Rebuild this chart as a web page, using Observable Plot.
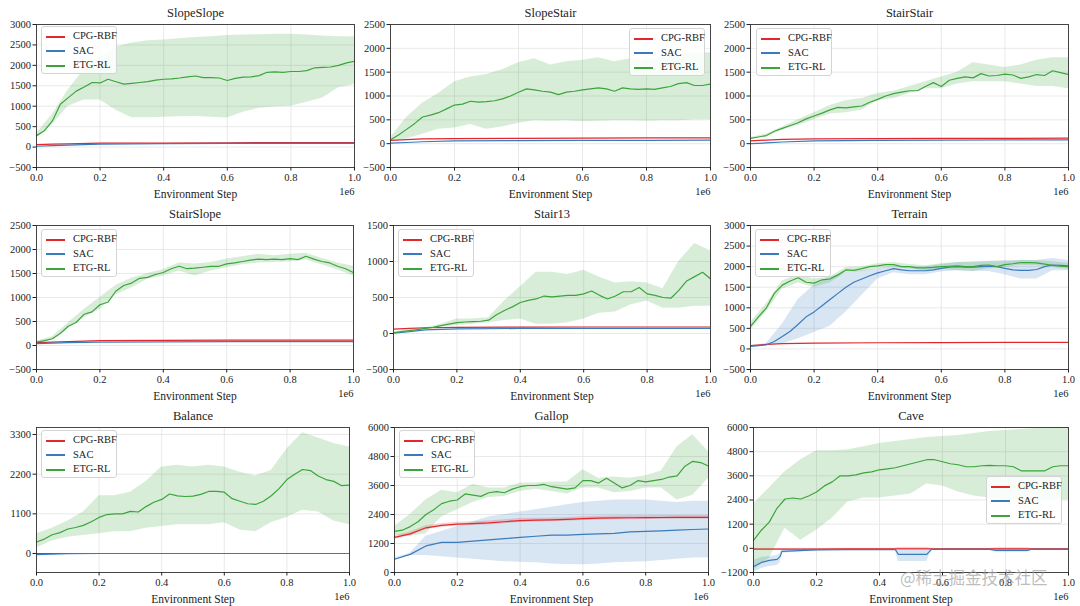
<!DOCTYPE html>
<html><head><meta charset="utf-8">
<script src="https://cdn.jsdelivr.net/npm/d3@7"></script>
<script src="https://cdn.jsdelivr.net/npm/@observablehq/plot@0.6"></script>
<style>
body{margin:0;background:#fff;}
#root{position:relative;width:1080px;height:606px;overflow:hidden;font-family:"Liberation Serif","Times New Roman",serif;background:#fff;}
.panel{position:absolute;}
.legend{position:absolute;width:74px;height:44px;background:rgba(255,255,255,0.85);border:1px solid #d4d4d4;border-radius:3px;font-size:10.5px;color:#222;padding-top:2px;box-sizing:content-box;}
.legend .row{height:14.5px;line-height:14.5px;position:relative;padding-left:31px;white-space:nowrap;}
.legend .sw{position:absolute;left:4px;top:6.5px;width:19px;height:2px;}
.wm{position:absolute;left:900px;top:568px;font-family:"Noto Sans CJK SC",sans-serif;font-size:16.5px;line-height:18px;color:rgba(160,160,160,0.7);white-space:nowrap;}
</style></head>
<body><div id="root"></div>
<script>
// ---------- data ----------
const STEPS = [0,0.025,0.05,0.075,0.1,0.125,0.15,0.175,0.2,0.225,0.25,0.275,0.3,0.325,0.35,0.375,0.4,0.425,0.45,0.475,0.5,0.525,0.55,0.575,0.6,0.625,0.65,0.675,0.7,0.725,0.75,0.775,0.8,0.825,0.85,0.875,0.9,0.925,0.95,0.975,1];
const BAND_STEPS = [0,0.05,0.1,0.15,0.2,0.25,0.3,0.35,0.4,0.45,0.5,0.55,0.6,0.65,0.7,0.75,0.8,0.85,0.9,0.95,1];
const FLAT_STEPS = [0,0.05,0.1,0.2,0.4,0.6,0.8,1];
const X_TICKS = [0,0.2,0.4,0.6,0.8,1];
const METHODS = ["CPG-RBF","SAC","ETG-RL"];

// SlopeSlope
const ssEtg = [280,400,640,1050,1210,1370,1470,1580,1570,1660,1600,1540,1560,1580,1600,1640,1660,1670,1690,1720,1740,1700,1700,1690,1630,1680,1710,1720,1750,1830,1840,1830,1850,1850,1870,1940,1950,1960,2000,2060,2100];
const ssEtgHi = [330,800,1400,1900,2200,2450,2550,2600,2620,2650,2680,2700,2730,2740,2750,2760,2760,2740,2720,2700,2700];
const ssEtgLo = [220,550,1000,1150,1150,900,720,720,730,740,750,730,710,850,950,980,1000,1100,1200,1450,1530];
const ssCpg = [60,70,80,95,100,105,110,110];
const ssSac = [20,35,50,70,85,90,90,90];
// SlopeStair
const sStEtg = [80,180,300,420,560,600,650,730,810,830,890,870,880,900,940,1000,1080,1150,1130,1100,1080,1030,1080,1100,1130,1150,1170,1150,1100,1170,1150,1140,1150,1140,1170,1200,1260,1280,1220,1220,1250];
const sStEtgHi = [130,550,850,1050,1300,1400,1450,1550,1700,1780,1650,1720,1750,1800,1720,1780,1750,1800,1850,1900,1900];
const sStEtgLo = [50,100,200,300,330,400,300,350,430,480,470,480,460,470,480,480,470,480,480,500,500];
const sStCpg = [70,85,100,105,110,115,120,120];
const sStSac = [10,25,40,60,65,70,70,75];
// StairStair
const stStEtg = [110,140,170,260,320,380,440,520,580,640,710,760,750,770,790,870,930,1000,1050,1080,1110,1110,1200,1280,1200,1330,1370,1400,1380,1470,1420,1430,1460,1440,1370,1400,1450,1430,1530,1490,1450];
const stStEtgHi = [130,200,350,500,650,800,900,950,1050,1100,1200,1300,1400,1500,1700,1650,1600,1650,1750,1800,1800];
const stStEtgLo = [90,150,280,380,500,620,650,700,900,950,1050,1150,1150,1250,1300,1300,1300,1250,1200,1200,1150];
const stStCpg = [60,75,90,100,105,110,110,115];
const stStSac = [0,15,35,60,70,75,80,80];
// StairSlope
const stSlEtg = [70,100,140,250,400,480,650,700,850,900,1130,1250,1300,1400,1420,1480,1520,1600,1650,1600,1610,1630,1650,1650,1700,1720,1750,1780,1800,1790,1800,1790,1810,1790,1860,1800,1750,1720,1650,1600,1520];
const stSlEtgHi = [90,180,470,750,1000,1250,1400,1500,1580,1720,1700,1730,1800,1850,1900,1870,1900,1920,1820,1720,1650];
const stSlEtgLo = [50,110,350,580,750,1050,1200,1380,1450,1550,1450,1550,1620,1680,1720,1730,1740,1780,1680,1580,1450];
const stSlCpg = [60,70,80,100,105,110,110,110];
const stSlSac = [40,50,60,70,75,80,80,80];
// Stair13
const s13Etg = [10,25,40,55,70,85,110,130,150,160,165,170,185,260,320,370,430,460,480,520,510,520,530,530,550,590,530,480,520,580,580,640,550,530,500,490,600,730,790,850,760];
const s13EtgHi = [20,60,80,130,200,200,220,450,650,850,850,820,880,780,700,720,700,620,1000,1250,1150];
const s13EtgLo = [0,30,60,90,110,130,150,180,200,130,130,150,200,280,300,400,450,350,350,380,380];
const s13Cpg = [60,70,80,85,88,90,90,90];
const s13Sac = [5,25,50,65,70,70,70,70];
// Terrain
const tEtg = [550,780,1000,1350,1550,1650,1730,1620,1600,1680,1700,1800,1920,1910,1950,2000,2020,2050,2050,2000,2000,1970,1970,1980,2000,2010,2020,2000,2000,2030,2040,2000,2050,2070,2100,2100,2090,2060,2030,2010,2000];
const tEtgHi = [650,1100,1650,1800,1700,1750,1980,2000,2070,2100,2050,2020,2070,2100,2100,2120,2120,2150,2150,2120,2080];
const tEtgLo = [450,900,1450,1600,1500,1600,1850,1880,1950,1980,1950,1900,1930,1900,1880,1950,1980,2030,2020,1980,1930];
const tSac = [60,80,100,180,300,430,600,780,900,1050,1200,1350,1500,1620,1700,1780,1850,1900,1950,1920,1900,1900,1900,1920,1960,1990,2000,1990,1990,2000,2010,2000,1960,1920,1910,1910,1930,2000,2040,2030,2020];
const tSacHi = [80,130,600,1200,1550,1750,1850,1900,1950,2000,1980,2000,2050,2100,2120,2130,2150,2150,2150,2200,2150];
const tSacLo = [40,70,120,250,400,550,900,1300,1700,1850,1800,1800,1870,1900,1880,1880,1800,1700,1700,1900,1900];
const tCpg = [80,110,130,140,150,155,160,160];
// Balance
const bEtg = [320,400,520,580,680,720,780,880,1000,1080,1100,1100,1170,1150,1300,1420,1500,1650,1600,1580,1590,1640,1720,1720,1700,1520,1450,1380,1360,1450,1600,1800,2050,2200,2330,2300,2150,2050,2000,1880,1900];
const bEtgHi = [550,700,900,1150,1600,1600,1700,2000,2400,2450,2400,2450,2400,2250,2150,2300,2900,3350,3200,3050,2950];
const bEtgLo = [150,350,450,500,550,600,600,700,750,800,800,800,850,650,600,850,1000,1200,1150,900,800];
const bCpg = [0,0,0,0,0,0,0,0];
const bSac = [-30,-20,-5,0,0,0,0,0];
// Gallop
const gEtg = [1700,1750,1900,2100,2400,2600,2850,2950,3000,3250,3200,3150,3300,3350,3300,3450,3550,3600,3600,3650,3550,3500,3450,3500,3800,3800,3700,3900,3700,3500,3600,3800,3750,3800,3850,3950,4000,4400,4600,4550,4400];
const gEtgHi = [1900,2400,3000,3400,3300,3650,3500,3500,3700,3700,3750,3750,4250,3900,3950,3900,4000,4200,5200,5700,5000];
const gEtgLo = [1550,1500,1600,2300,2600,2900,3100,3150,3350,3450,3350,3250,3500,3500,3300,3350,3500,3500,3000,3200,3900];
const gCpg = [1450,1600,1850,1950,2000,2020,2050,2100,2150,2170,2180,2200,2230,2250,2260,2265,2270,2275,2280,2280,2280];
const gCpgHi = [1530,1680,1930,2030,2080,2100,2130,2180,2230,2250,2260,2280,2310,2330,2340,2345,2350,2355,2360,2360,2360];
const gCpgLo = [1370,1520,1770,1870,1920,1940,1970,2020,2070,2090,2100,2120,2150,2170,2180,2185,2190,2195,2200,2200,2200];
const gSac = [550,750,1100,1250,1250,1300,1350,1400,1450,1500,1550,1550,1580,1600,1620,1680,1700,1720,1750,1780,1800];
const gSacHi = [600,800,1500,1700,1900,2100,2300,2400,2500,2600,2700,2800,2900,2950,3000,3000,3000,2950,2900,2950,2950];
const gSacLo = [500,700,700,650,600,550,500,450,420,400,350,330,320,350,400,420,450,500,550,600,600];
// Cave
const cEtg = [400,900,1300,2000,2450,2500,2450,2600,2800,3100,3300,3600,3600,3650,3750,3800,3900,3950,4000,4100,4200,4300,4400,4400,4300,4200,4150,4050,4050,4100,4120,4100,4100,4050,3850,3850,3850,3850,4050,4100,4100];
const cEtgHi = [2200,3000,3800,4400,4850,4850,4900,5050,5200,5300,5400,5500,5550,5600,5700,5800,5850,5900,5950,6000,6000];
const cEtgLo = [-1100,-500,1000,400,900,1500,2300,2500,2500,2600,2700,3200,3100,2800,2600,2500,2400,2400,2400,2400,2400];
const cSteps = [0,0.025,0.05,0.075,0.085,0.09,0.2,0.3,0.45,0.46,0.55,0.565,0.75,0.77,0.87,0.88,1];
const cSac = [-900,-700,-600,-550,-400,-150,-80,-60,-60,-300,-300,-50,-50,-100,-100,-50,-50];
const cSacHi = [-600,-450,-400,-350,-250,-80,-40,-40,-40,-100,-100,-30,-30,-40,-40,-30,-30];
const cSacLo = [-1200,-1000,-900,-850,-700,-250,-120,-100,-100,-650,-650,-100,-100,-200,-200,-100,-100];
const cCpg = [-40,-40,-40,-40,-40,-40,-35,-30,-30,-30,-30,-30,-30,-30,-30,-30,-30];
const cCpgHi = [-20,-20,-20,-20,-20,-20,-15,-10,-10,60,60,-10,-10,30,30,-10,-10];
const cCpgLo = [-60,-60,-60,-60,-60,-60,-55,-50,-50,-60,-60,-50,-50,-60,-60,-50,-50];

const TICKS_2500 = [-500,0,500,1000,1500,2000,2500];
const TICKS_3000 = [-500,0,500,1000,1500,2000,2500,3000];
const TICKS_1500 = [-500,0,500,1000,1500];
const TICKS_BAL = [0,1100,2200,3300];
const TICKS_GAL = [0,1200,2400,3600,4800,6000];
const TICKS_CAVE = [-1200,0,1200,2400,3600,4800,6000];

// ---------- styling / layout ----------
const RED = "#e2272d", BLUE = "#3a7bbd", GREEN = "#3ba53b";
const COLORS = [RED, BLUE, GREEN];
const pts = (xs, ys) => xs.map((x, i) => ({x, y: ys[i]}));
const band = (xs, lo, hi) => xs.map((x, i) => ({x, lo: lo[i], hi: hi[i]}));

const panels = [
  {title:"SlopeSlope", left:0, top:0, h:202, mt:24, mb:35, ml:36, mr:6, y:[-500,3000], yt:TICKS_3000, lg:[41,26],
   bands:[[band(BAND_STEPS, ssEtgLo, ssEtgHi), GREEN]],
   lines:[[pts(FLAT_STEPS, ssCpg), RED],[pts(FLAT_STEPS, ssSac), BLUE],[pts(STEPS, ssEtg), GREEN]]},
  {title:"SlopeStair", left:360, top:0, h:202, mt:24, mb:35, ml:30, mr:10, y:[-500,2500], yt:TICKS_2500, lg:[629,28],
   bands:[[band(BAND_STEPS, sStEtgLo, sStEtgHi), GREEN]],
   lines:[[pts(FLAT_STEPS, sStCpg), RED],[pts(FLAT_STEPS, sStSac), BLUE],[pts(STEPS, sStEtg), GREEN]]},
  {title:"StairStair", left:720, top:0, h:202, mt:24, mb:35, ml:30, mr:12, y:[-500,2500], yt:TICKS_2500, lg:[756,28],
   bands:[[band(BAND_STEPS, stStEtgLo, stStEtgHi), GREEN]],
   lines:[[pts(FLAT_STEPS, stStCpg), RED],[pts(FLAT_STEPS, stStSac), BLUE],[pts(STEPS, stStEtg), GREEN]]},
  {title:"StairSlope", left:0, top:200, h:202, mt:25, mb:33, ml:36, mr:7, y:[-500,2500], yt:TICKS_2500, lg:[41,229],
   bands:[[band(BAND_STEPS, stSlEtgLo, stSlEtgHi), GREEN]],
   lines:[[pts(FLAT_STEPS, stSlCpg), RED],[pts(FLAT_STEPS, stSlSac), BLUE],[pts(STEPS, stSlEtg), GREEN]]},
  {title:"Stair13", left:360, top:200, h:202, mt:25, mb:33, ml:33, mr:10, y:[-500,1500], yt:TICKS_1500, lg:[398,229],
   bands:[[band(BAND_STEPS, s13EtgLo, s13EtgHi), GREEN]],
   lines:[[pts(FLAT_STEPS, s13Cpg), RED],[pts(FLAT_STEPS, s13Sac), BLUE],[pts(STEPS, s13Etg), GREEN]]},
  {title:"Terrain", left:720, top:200, h:202, mt:25, mb:33, ml:30, mr:12, y:[-500,3000], yt:TICKS_3000, lg:[755,229],
   bands:[[band(BAND_STEPS, tSacLo, tSacHi), BLUE],[band(BAND_STEPS, tEtgLo, tEtgHi), GREEN]],
   lines:[[pts(FLAT_STEPS, tCpg), RED],[pts(STEPS, tSac), BLUE],[pts(STEPS, tEtg), GREEN]]},
  {title:"Balance", left:0, top:400, h:206, mt:27, mb:34, ml:36, mr:11, y:[-527,3494], yt:TICKS_BAL, lg:[41,430],
   bands:[[band(BAND_STEPS, bEtgLo, bEtgHi), GREEN]],
   lines:[[pts(FLAT_STEPS, bCpg), RED],[pts(FLAT_STEPS, bSac), BLUE],[pts(STEPS, bEtg), GREEN]]},
  {title:"Gallop", left:360, top:400, h:206, mt:27, mb:34, ml:34, mr:12, y:[0,6000], yt:TICKS_GAL, lg:[399,430],
   bands:[[band(BAND_STEPS, gSacLo, gSacHi), BLUE],[band(BAND_STEPS, gCpgLo, gCpgHi), RED],[band(BAND_STEPS, gEtgLo, gEtgHi), GREEN]],
   lines:[[pts(BAND_STEPS, gCpg), RED],[pts(BAND_STEPS, gSac), BLUE],[pts(STEPS, gEtg), GREEN]]},
  {title:"Cave", left:720, top:400, h:206, mt:27, mb:34, ml:33, mr:12, y:[-1200,6000], yt:TICKS_CAVE, lg:[986,476],
   bands:[[band(cSteps, cSacLo, cSacHi), BLUE],[band(cSteps, cCpgLo, cCpgHi), RED],[band(BAND_STEPS, cEtgLo, cEtgHi), GREEN]],
   lines:[[pts(cSteps, cCpg), RED],[pts(cSteps, cSac), BLUE],[pts(STEPS, cEtg), GREEN]]}
];

const yFmt = d => (d < 0 ? "\u2212" + Math.abs(d) : String(d));
const root = document.getElementById("root");

for (const p of panels) {
  const marks = [
    Plot.gridX(X_TICKS, {stroke: "#e3e3e3", strokeOpacity: 1, strokeWidth: 0.8}),
    Plot.gridY(p.yt, {stroke: "#e3e3e3", strokeOpacity: 1, strokeWidth: 0.8}),
    ...p.bands.map(([rows, c]) => Plot.areaY(rows, {x: "x", y1: "lo", y2: "hi", fill: c, fillOpacity: 0.2, clip: true})),
    ...p.lines.map(([rows, c]) => Plot.line(rows, {x: "x", y: "y", stroke: c, strokeWidth: 1.2, clip: true})),
    Plot.frame({stroke: "#333", strokeWidth: 0.9}),
    Plot.axisX(X_TICKS, {tickSize: 3.5, tickPadding: 2.5, tickFormat: d3.format(".1f"), fontSize: 10.5, label: null}),
    Plot.axisY(p.yt, {tickSize: 3.5, tickPadding: 2, tickFormat: yFmt, fontSize: 10.5, label: null}),
    Plot.text([p.title], {frameAnchor: "top", lineAnchor: "middle", dy: -12, fontSize: 12.5, fill: "#222"}),
    Plot.text(["Environment Step"], {frameAnchor: "bottom", lineAnchor: "middle", dy: 27, fontSize: 11.5, fill: "#222"}),
    Plot.text(["1e6"], {frameAnchor: "bottom-right", lineAnchor: "middle", dy: 24, textAnchor: "end", fontSize: 10.5, fill: "#222"})
  ];
  const svg = Plot.plot({
    width: 360, height: p.h,
    marginTop: p.mt, marginBottom: p.mb, marginLeft: p.ml, marginRight: p.mr,
    x: {domain: [0, 1]},
    y: {domain: p.y},
    style: {fontFamily: '"Liberation Serif","Times New Roman",serif', fontSize: "10.5px", color: "#222", background: "transparent", overflow: "visible"},
    marks
  });
  const div = document.createElement("div");
  div.className = "panel";
  div.style.left = p.left + "px";
  div.style.top = p.top + "px";
  div.appendChild(svg);
  root.appendChild(div);

  const lg = document.createElement("div");
  lg.className = "legend";
  lg.style.left = p.lg[0] + "px";
  lg.style.top = p.lg[1] + "px";
  METHODS.forEach((m, i) => {
    const row = document.createElement("div");
    row.className = "row";
    const sw = document.createElement("span");
    sw.className = "sw";
    sw.style.background = COLORS[i];
    row.appendChild(sw);
    row.appendChild(document.createTextNode(m));
    lg.appendChild(row);
  });
  root.appendChild(lg);
}

const wm = document.createElement("div");
wm.className = "wm";
wm.textContent = "@稀土掘金技术社区";
root.appendChild(wm);
</script>
</body></html>
